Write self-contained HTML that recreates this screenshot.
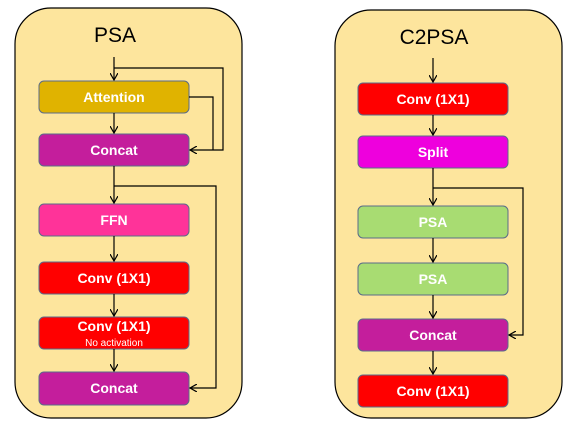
<!DOCTYPE html>
<html><head><style>
body{margin:0;background:#fff;width:588px;height:428px;overflow:hidden}
svg text{font-family:"Liberation Sans",sans-serif}
.b{font-weight:bold;font-size:14px;fill:#fff;text-anchor:middle}
</style></head><body>
<svg width="588" height="428" viewBox="0 0 588 428">
<defs><marker id="a" markerWidth="8" markerHeight="8" refX="7" refY="4" orient="auto" markerUnits="userSpaceOnUse"><path d="M0,0 L7,4 L0,8" fill="none" stroke="#000" stroke-width="1.2"/></marker></defs>
<rect x="15" y="8" width="227" height="410" rx="36" fill="#fde59d" stroke="#000" stroke-width="1.2"/>
<rect x="335" y="10" width="227" height="408" rx="36" fill="#fde59d" stroke="#000" stroke-width="1.2"/>
<text x="115" y="42" font-size="21" text-anchor="middle">PSA</text>
<text x="434" y="44" font-size="21" text-anchor="middle">C2PSA</text>
<g stroke="#5a6b8a" stroke-width="1">
<rect x="39" y="81" width="150" height="32" rx="5" fill="#e0b300"/>
<rect x="39" y="134" width="150" height="32" rx="5" fill="#c41e9c"/>
<rect x="39" y="204" width="150" height="32" rx="5" fill="#ff3399"/>
<rect x="39" y="262" width="150" height="32" rx="5" fill="#ff0000"/>
<rect x="39" y="317" width="150" height="32" rx="5" fill="#ff0000"/>
<rect x="39" y="372" width="150" height="33" rx="5" fill="#c41e9c"/>
<rect x="358" y="83" width="150" height="32" rx="5" fill="#ff0000"/>
<rect x="358" y="136" width="150" height="32" rx="5" fill="#ee00dd"/>
<rect x="358" y="206" width="150" height="32" rx="5" fill="#a8dc72"/>
<rect x="358" y="263" width="150" height="32" rx="5" fill="#a8dc72"/>
<rect x="358" y="319" width="150" height="32" rx="5" fill="#c41e9c"/>
<rect x="358" y="375" width="150" height="32" rx="5" fill="#ff0000"/>
</g>
<text class="b" x="114" y="102">Attention</text>
<text class="b" x="114" y="155">Concat</text>
<text class="b" x="114" y="225">FFN</text>
<text class="b" x="114" y="283">Conv (1X1)</text>
<text class="b" x="114" y="331">Conv (1X1)</text>
<text class="b" x="114" y="346" style="font-size:10px;font-weight:normal">No activation</text>
<text class="b" x="114" y="393">Concat</text>
<text class="b" x="433" y="104">Conv (1X1)</text>
<text class="b" x="433" y="157">Split</text>
<text class="b" x="433" y="227">PSA</text>
<text class="b" x="433" y="284">PSA</text>
<text class="b" x="433" y="340">Concat</text>
<text class="b" x="433" y="396">Conv (1X1)</text>
<g stroke="#000" stroke-width="1.2" fill="none">
<path d="M114 57V80" marker-end="url(#a)"/>
<path d="M114 68H223V150H190" marker-end="url(#a)"/>
<path d="M189 97H213V150"/>
<path d="M114 113V133" marker-end="url(#a)"/>
<path d="M114 166V203" marker-end="url(#a)"/>
<path d="M114 186H216V388H190" marker-end="url(#a)"/>
<path d="M114 236V261" marker-end="url(#a)"/>
<path d="M114 294V316" marker-end="url(#a)"/>
<path d="M114 349V371" marker-end="url(#a)"/>
<path d="M433 58V82" marker-end="url(#a)"/>
<path d="M433 115V135" marker-end="url(#a)"/>
<path d="M433 168V205" marker-end="url(#a)"/>
<path d="M433 188H523V335H509" marker-end="url(#a)"/>
<path d="M433 238V262" marker-end="url(#a)"/>
<path d="M433 295V318" marker-end="url(#a)"/>
<path d="M433 351V374" marker-end="url(#a)"/>
</g>
</svg>
</body></html>
